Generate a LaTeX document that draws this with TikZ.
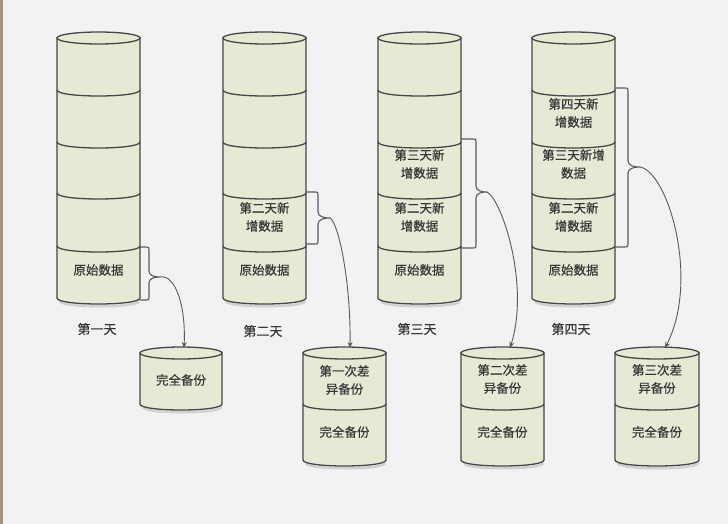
\documentclass[tikz,border=0pt]{standalone}
\usepackage{fontspec}
\newfontfamily\cjk[FakeBold=0.5]{Noto Sans CJK SC}
\usetikzlibrary{arrows.meta}
\definecolor{bg}{RGB}{242,242,242}
\definecolor{cylfill}{RGB}{230,234,213}
\definecolor{cylline}{RGB}{70,70,70}
\definecolor{txt}{RGB}{55,55,55}
\definecolor{stripc}{RGB}{168,144,128}
\definecolor{linkc}{RGB}{90,90,90}
\tikzset{
  cyl/.style={draw=cylline, fill=cylfill, line width=1.3pt},
  divline/.style={draw=cylline, line width=1.3pt},
  shadowline/.style={draw=black!18, line width=2.5pt},
  lbl/.style={font=\cjk\fontsize{12.5}{18}\selectfont, text=txt, align=center, inner sep=0pt},
  daylbl/.style={font=\cjk\fontsize{13}{16}\selectfont, text=txt, inner sep=0pt},
  bracestyle/.style={draw=linkc, line width=1.1pt},
  link/.style={draw=linkc, line width=0.9pt, -{Stealth[length=6pt,width=5pt]}}
}
% #1 xl, #2 xr, #3 ytop, #4 ybottom
\newcommand\mycylbody[4]{%
  \draw[shadowline] (#1+3,#4+3) .. controls (#1+3,#4+10) and (#2-1,#4+10) .. (#2-1,#4+3);
  \path[cyl] (#1,#3) -- (#1,#4) .. controls (#1,#4+8) and (#2,#4+8) .. (#2,#4) -- (#2,#3) -- cycle;
  \path[cyl] ({(#1+#2)/2},#3) ellipse [x radius={(#2-#1)/2}, y radius=6];
}
\newcommand\mycyldiv[3]{%
  \draw[divline] (#1,#3) .. controls (#1,#3+8) and (#2,#3+8) .. (#2,#3);
}
% #1 x0, #2 xv, #3 xt, #4 yt, #5 ym, #6 yb, #7 name
\newcommand\mybrace[7]{%
  \draw[bracestyle] (#1,#4) -- (#2-3,#4) .. controls (#2,#4) .. (#2,#4+3)
    -- (#2,#5-6) .. controls (#2,#5-1) and (#3-5,#5) .. (#3,#5)
    .. controls (#3-5,#5) and (#2,#5+1) .. (#2,#5+6)
    -- (#2,#6-3) .. controls (#2,#6) .. (#2-3,#6) -- (#1,#6);
  \coordinate (#7) at (#3,#5);
}
\begin{document}
\begin{tikzpicture}[x=1pt,y=-1pt]
\path[use as bounding box, fill=bg] (0,0) rectangle (728,524);
\fill[stripc] (0,0) rectangle (3,524);

% tall cylinders
\foreach \xl/\xr in {57/140, 223/306, 378/461, 532/615}{
  \mycylbody{\xl}{\xr}{38}{298}
  \mycyldiv{\xl}{\xr}{90}
  \mycyldiv{\xl}{\xr}{142}
  \mycyldiv{\xl}{\xr}{193}
  \mycyldiv{\xl}{\xr}{246}
}

% small cylinders
\mycylbody{140}{222}{353}{404}
\foreach \xl/\xr in {303/386, 461/544, 615/699}{
  \mycylbody{\xl}{\xr}{353}{460}
  \mycyldiv{\xl}{\xr}{404}
}

% texts in tall cylinders
\node[lbl] (c1e) at (98.5,270) {原始数据};
\node[lbl] (c2d) at (264.5,217) {第二天新\\增数据};
\node[lbl] (c2e) at (264.5,270) {原始数据};
\node[lbl] (c3c) at (419.5,164) {第三天新\\增数据};
\node[lbl] (c3d) at (419.5,217) {第二天新\\增数据};
\node[lbl] (c3e) at (419.5,270) {原始数据};
\node[lbl] (c4b) at (573.5,113) {第四天新\\增数据};
\node[lbl] (c4c) at (573.5,164) {第三天新增\\数据};
\node[lbl] (c4d) at (573.5,217) {第二天新\\增数据};
\node[lbl] (c4e) at (573.5,270) {原始数据};

% day labels
\node[daylbl] (d1) at (97,329) {第一天};
\node[daylbl] (d2) at (263,331) {第二天};
\node[daylbl] (d3) at (417,329) {第三天};
\node[daylbl] (d4) at (571,329) {第四天};

% texts in small cylinders
\node[lbl] (s1a) at (181,380) {完全备份};
\node[lbl] (s2a) at (344.5,380) {第一次差\\异备份};
\node[lbl] (s2b) at (344.5,432) {完全备份};
\node[lbl] (s3a) at (502.5,379) {第二次差\\异备份};
\node[lbl] (s3b) at (502.5,432) {完全备份};
\node[lbl] (s4a) at (657,379) {第三次差\\异备份};
\node[lbl] (s4b) at (657,432) {完全备份};

% braces
\mybrace{140}{149}{160}{247}{277}{300}{t1}
\mybrace{306}{318}{330}{192}{218}{244}{t2}
\mybrace{461}{476}{487}{139}{192}{248}{t3}
\mybrace{615}{628}{640}{88}{167}{247}{t4}

% arrow targets
\coordinate (in1) at (184,348);
\coordinate (in2) at (350,348);
\coordinate (in3) at (510,348);
\coordinate (in4) at (665,348);

\draw[link] (t1) .. controls (175,274) and (186,305) .. (in1);
\draw[link] (t2) .. controls (338,222) and (351,280) .. (in2);
\draw[link] (t3) .. controls (502,200) and (530,285) .. (in3);
\draw[link] (t4) .. controls (668,172) and (700,280) .. (in4);
\end{tikzpicture}
\end{document}
